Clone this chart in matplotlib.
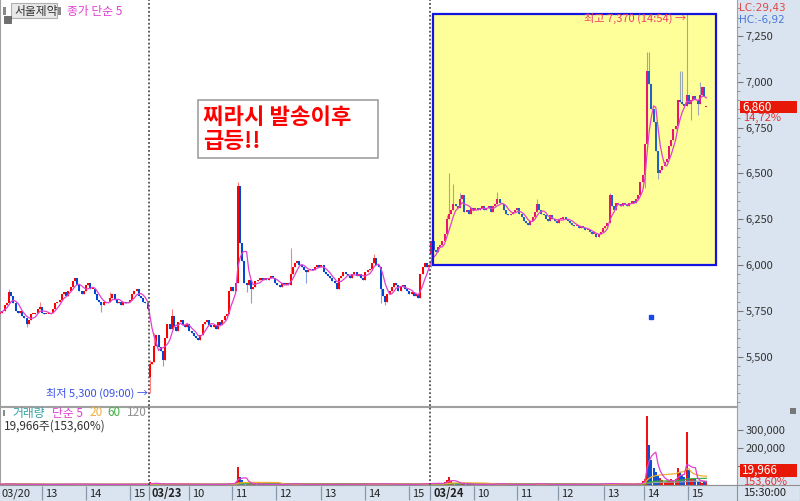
import numpy as np
import pandas as pd
import matplotlib
matplotlib.use("Agg")
import matplotlib.pyplot as plt
from matplotlib.patches import Rectangle
from matplotlib.ticker import FuncFormatter, MultipleLocator, FixedLocator

plt.rcParams['font.family'] = ['Noto Sans CJK KR', 'DejaVu Sans']

# ─────────────────────────────────────────────
# 3분봉 데이터 (03/20 12:00 ~ 03/24 15:1x)
# ─────────────────────────────────────────────
day1_close = [5740, 5750, 5780, 5790, 5850, 5830, 5790, 5750, 5740, 5750,
              5720, 5710, 5680, 5700, 5730, 5730, 5740, 5760, 5770, 5740,
              5730, 5730, 5730, 5740, 5760, 5790, 5800, 5810, 5840, 5850,
              5830, 5860, 5880, 5910, 5930, 5890, 5860, 5840, 5860, 5890,
              5900, 5870, 5870, 5840, 5810, 5800, 5780, 5800, 5790, 5800,
              5820, 5840, 5810, 5790, 5800, 5780, 5800, 5790, 5800, 5810,
              5840, 5860, 5870, 5830, 5820, 5800, 5790, 5760]
day2_close = [5460, 5470, 5560, 5620, 5550, 5530, 5480, 5600, 5680, 5650,
              5720, 5660, 5640, 5690, 5700, 5670, 5660, 5680, 5640, 5630,
              5610, 5600, 5590, 5620, 5680, 5690, 5700, 5670, 5660, 5670,
              5650, 5690, 5670, 5700, 5720, 5730, 5860, 5880, 5860, 5900,
              6430, 6120, 6020, 5900, 5890, 5920, 5870, 5880, 5910, 5920,
              5930, 5920, 5930, 5920, 5930, 5940, 5930, 5900, 5890, 5880,
              5900, 5890, 5900, 5890, 5950, 5990, 6010, 6020, 6000, 5990,
              5970, 5960, 5970, 5980, 5970, 5990, 6000, 5990, 6000, 5960,
              5950, 5940, 5930, 5910, 5900, 5870, 5930, 5940, 5960, 5950,
              5940, 5930, 5950, 5960, 5940, 5950, 5930, 5920, 5960, 5970,
              5980, 6010, 6040, 6000, 5990, 5870, 5830, 5800, 5840, 5860,
              5880, 5900, 5890, 5860, 5880, 5890, 5870, 5860, 5840, 5850,
              5830, 5840, 5820, 5950, 5990, 6010, 5990, 6000]
day3_close = [6130, 6080, 6070, 6100, 6110, 6130, 6170, 6250, 6280, 6300,
              6330, 6320, 6310, 6360, 6380, 6290, 6300, 6280, 6310, 6300,
              6310, 6300, 6310, 6320, 6300, 6310, 6320, 6290, 6320, 6330,
              6360, 6340, 6330, 6300, 6280, 6270, 6280, 6290, 6300, 6310,
              6280, 6260, 6240, 6230, 6220, 6240, 6260, 6290, 6330, 6300,
              6280, 6270, 6250, 6240, 6270, 6250, 6240, 6230, 6250, 6250,
              6260, 6250, 6240, 6230, 6220, 6210, 6210, 6200, 6210, 6200,
              6190, 6190, 6180, 6170, 6170, 6150, 6170, 6180, 6200, 6210,
              6230, 6380, 6320, 6300, 6340, 6330, 6320, 6340, 6330, 6320,
              6340, 6350, 6340, 6360, 6380, 6450, 6490, 6660, 7060, 6990,
              6850, 6780, 6620, 6500, 6520, 6540, 6560, 6580, 6650, 6680,
              6740, 6760, 6900, 6890, 6880, 6870, 6930, 6880, 6900, 6920,
              6900, 6880, 6930, 6970, 6920, 6860]

# 거래량 (천주)
day1_vol_k = [3, 2, 5, 8, 4, 2, 3, 2, 1, 2, 3, 2, 4, 3, 2, 2, 1, 2, 3, 2,
              1, 1, 2, 1, 2, 3, 2, 2, 3, 2, 2, 3, 4, 3, 5, 3, 2, 2, 3, 2,
              1, 2, 2, 1, 2, 3, 2, 1, 2, 3, 2, 2, 1, 2, 1, 2, 2, 1, 2, 3,
              3, 4, 3, 2, 2, 1, 2, 6]
day2_vol_k = [13, 8, 6, 5, 4, 5, 4, 3, 6, 5, 4, 3, 3, 4, 3, 2, 3, 2, 2, 3,
              2, 2, 3, 2, 3, 2, 2, 3, 2, 3, 2, 2, 2, 3, 2, 3,
              12, 6, 5, 15, 95, 40, 25, 14, 8, 6, 5, 4, 3, 3, 4, 3, 2, 3, 2, 3,
              2, 2, 2, 3, 2, 3, 2, 2,
              10, 6, 4, 3, 2, 2, 3, 2, 2, 2, 3, 2, 2, 2, 3, 2, 2, 2, 3, 4,
              3, 2, 2, 2, 2, 2, 3, 2, 2, 3, 2, 2, 3, 2, 5, 4, 3,
              4, 6, 3, 2, 8, 6, 5, 3, 3, 4, 3, 2, 2, 2, 3, 2, 2, 2, 2, 2,
              2, 3, 7, 6, 4, 3, 8]
day3_vol_k = [12, 6, 5, 8, 6, 9, 14, 25, 40, 22, 12, 8, 6, 9, 7,
              4, 3, 3, 2, 3, 2, 2, 3, 2, 2, 3, 2, 2, 3, 4, 11, 5, 3, 2, 2,
              2, 3, 2, 2, 3, 2, 2, 2, 2, 3,
              2, 3, 4, 10, 5, 3, 2, 2, 3, 2, 2, 2, 2, 3, 2, 2, 2, 2, 2, 2,
              2, 2, 2, 2, 3, 2, 2, 2, 3, 2,
              3, 4, 5, 6, 5, 6, 9, 6, 4, 3, 4, 3, 3, 3, 2, 3, 4, 3, 5, 6,
              10, 20, 30, 378, 217, 135, 90, 70, 50, 35, 25, 15, 20, 25, 30,
              20, 30, 89, 72, 56, 40, 290, 78, 33, 30, 35, 15, 15, 12, 15, 19.966]

first_open = 5730
open_fix = {68: 5390, 196: 6060, 321: 6860}
high_fix = {4: 5870, 18: 5800, 50: 5850, 68: 5480, 70: 5630, 78: 5760,
            108: 6450, 109: 6400, 132: 6090, 170: 6060, 203: 6270, 204: 6500,
            206: 6440, 209: 6390, 226: 6400, 244: 6360, 277: 6390, 294: 7160,
            295: 7160, 309: 7060, 310: 7060, 312: 7370, 318: 7000}
low_fix = {0: 5700, 12: 5660, 46: 5745, 68: 5300, 74: 5450, 112: 5850,
           114: 5790, 139: 5900, 173: 5790, 175: 5780, 196: 5990, 293: 6420,
           299: 6470, 314: 6790, 317: 6820}

date_labels = ['03/20', '13', '14', '15', '03/23', '10', '11', '12', '13', '14', '15',
               '03/24', '10', '11', '12', '13', '14', '15']
date_ticks = [-0.5, 19.5, 39.5, 59.5, 68, 86.5, 106, 126, 146.5, 166.5, 186.5,
              196, 216, 235.5, 254, 275, 293, 313]
day_starts = [68, 196]
marker_pt = (296, 5715)

# ─────────────────────────────────────────────
assert len(day1_close) == len(day1_vol_k) == 68
assert len(day2_close) == len(day2_vol_k) == 128
assert len(day3_close) == len(day3_vol_k) == 126

close = np.array(day1_close + day2_close + day3_close, dtype=float)
vol = np.array(day1_vol_k + day2_vol_k + day3_vol_k) * 1000
n = len(close)
idx = np.arange(n)
opn = np.r_[first_open, close[:-1]]
for k, v in open_fix.items():
    opn[k] = v
hi = np.maximum(opn, close)
lo = np.minimum(opn, close)
for k, v in high_fix.items():
    hi[k] = max(hi[k], v)
for k, v in low_fix.items():
    lo[k] = min(lo[k], v)
up = close >= opn
box = idx >= day_starts[1]

W, H = 800, 501
fig = plt.figure(figsize=(8, 5.01), dpi=100)


def fr(x0, y0, x1, y1):
    return [x0 / W, 1 - y1 / H, (x1 - x0) / W, (y1 - y0) / H]


def ftext(px, py, s, **kw):
    kw.setdefault('va', 'center')
    kw.setdefault('size', 8.5)
    return fig.text(px / W, 1 - py / H, s, **kw)


def frect(x0, y0, x1, y1, **kw):
    r = Rectangle((x0 / W, 1 - y1 / H), (x1 - x0) / W, (y1 - y0) / H,
                  transform=fig.transFigure, **kw)
    fig.add_artist(r)
    return r


PANEL = '#d9e4f0'
frect(737, 0, 800, 486, facecolor=PANEL, edgecolor='none', zorder=-1)

xlim = (-0.09, 334.9)

# ── 가격 패널
ax = fig.add_axes(fr(0, 0, 737, 406))
body_col = np.where(up, np.where(box, '#e8186e', '#ff0000'), np.where(box, '#1c64c8', '#0048d0'))
wick_col = np.where(box, '#9aa6b0', np.where(up, '#ff8080', '#80a0e0'))
ax.vlines(idx, lo, hi, colors=wick_col, lw=0.8, zorder=2)
ax.bar(idx, np.maximum(np.abs(close - opn), 7), bottom=np.minimum(opn, close),
       width=0.85, color=body_col, linewidth=0, zorder=3)
sma5 = pd.Series(close).rolling(5, min_periods=1).mean()
ax.plot(idx, sma5, color='#e040d0', lw=0.9, zorder=3.5)

# 노란 박스
b_left = day_starts[1] + 0.5
b_right = n - 1 + 4.5
ax.add_patch(Rectangle((b_left, 6000), b_right - b_left, hi.max() - 6000,
                       facecolor='#ffff99', edgecolor='none', zorder=0.5))
ax.add_patch(Rectangle((b_left, 6000), b_right - b_left, hi.max() - 6000,
                       fill=False, edgecolor='#1414e0', lw=1.6, zorder=4))

ax.plot(*marker_pt, marker='s', ms=3.5, color='#1848e8', zorder=4)

ih = int(np.argmax(hi))
il = int(np.argmin(lo))
ax.text(ih - 0.4, hi[ih] - 25, f"최고 {hi[ih]:,.0f} (14:54) →", ha='right', va='center',
        color='#f03c64', size=8, zorder=5)
ax.text(il - 1.0, lo[il], f"최저 {lo[il]:,.0f} (09:00) →", ha='right', va='center',
        color='#3850e8', size=8, zorder=5)

ax.set_xlim(*xlim)
ax.set_ylim(5230, 7446)
ax.set_xticks([])
ax.yaxis.tick_right()
ax.yaxis.set_major_locator(FixedLocator([5500, 5750, 6000, 6250, 6500, 6750, 7000, 7250]))
ax.yaxis.set_minor_locator(MultipleLocator(50))
ax.yaxis.set_major_formatter(FuncFormatter(lambda v, p: f"{v:,.0f}"))
ax.tick_params(axis='y', which='major', length=4, width=0.8, color='#777',
               labelsize=8, labelcolor='#333', pad=2)
ax.tick_params(axis='y', which='minor', length=2, width=0.6, color='#888')
for s in ax.spines.values():
    s.set_color('#a0a0a0')
ax.spines['top'].set_visible(False)

# ── 거래량 패널
axv = fig.add_axes(fr(0, 407, 737, 485))
vcol = np.where(up, '#f01010', '#1050d0')
axv.bar(idx, vol, width=0.85, color=vcol, linewidth=0, zorder=2)
vs = pd.Series(vol)
for w, c in [(120, '#a0a0a0'), (60, '#40b040'), (20, '#f0b030'), (5, '#e040d0')]:
    axv.plot(idx, vs.rolling(w, min_periods=1).mean(), color=c, lw=0.9, zorder=3)
axv.set_xlim(*xlim)
axv.set_ylim(-1500, 426000)
axv.set_xticks([])
axv.yaxis.tick_right()
axv.yaxis.set_major_locator(FixedLocator([100000, 200000, 300000]))
# 100,000 라벨은 빨간 현재값 상자에 가려짐
axv.yaxis.set_major_formatter(FuncFormatter(lambda v, p: "" if v < 150000 else f"{v:,.0f}"))
axv.tick_params(axis='y', length=4, width=0.8, color='#777', labelsize=8,
                labelcolor='#333', pad=2)
for s in axv.spines.values():
    s.set_color('#a0a0a0')

for a in (ax, axv):
    for d in day_starts:
        a.axvline(d - 0.5, color='#505050', ls=(0, (1, 1.2)), lw=1.3, zorder=6)

# ── 날짜 축
axd = fig.add_axes(fr(0, 485, 737, 501))
axd.set_facecolor(PANEL)
axd.set_xlim(*xlim)
axd.set_ylim(0, 1)
axd.set_xticks([])
axd.set_yticks([])
for s in ['left', 'right', 'bottom']:
    axd.spines[s].set_visible(False)
axd.spines['top'].set_color('#909090')
for t, lab in zip(date_ticks, date_labels):
    if t > 0:
        axd.vlines(t - 0.5, 0.05, 0.95, color='#8898a8', lw=0.9)
    axd.text(t + 0.9, 0.45, lab, ha='left', va='center', size=8, color='#222',
             weight='bold' if lab in ('03/23', '03/24') else 'normal')
frect(737, 485, 800, 501, facecolor=PANEL, edgecolor='#909090', lw=0.8)
ftext(743, 493, "15:30:00", size=8, color='#222')

# ── 상단 라벨
frect(3, 7, 6, 15, facecolor='#8a8a8a', edgecolor='none')
frect(11, 3, 57, 18, facecolor='#e8e8e8', edgecolor='#b0b0b0', lw=0.8)
ftext(14, 11, "서울제약", color='#333')
frect(58, 7, 61, 15, facecolor='#8a8a8a', edgecolor='none')
ftext(67, 11, "종가 단순 5", color='#e040d0')
frect(4, 16, 11, 23, facecolor='#707070', edgecolor='#505050', lw=0.5)

ftext(739, 8.5, "LC:29,43", color='#e04848', size=7.5, family='DejaVu Sans')
ftext(739, 20.5, "HC:-6,92", color='#4878d8', size=7.5, family='DejaVu Sans')
frect(740, 101, 797, 113, facecolor='#e81808', edgecolor='none', zorder=5)
ftext(742, 107, f"{close[-1]:,.0f}", color='white', zorder=6)
ftext(743, 117.5, "14,72%", color='#e83030', size=8)

# ── 거래량 라벨
frect(3, 410, 5, 416, facecolor='#8a8a8a', edgecolor='none')
ftext(12, 413, "거래량", color='#30a0a0')
ftext(52, 413, "단순 5", color='#e040d0')
ftext(89, 413, "20", color='#f0b040')
ftext(107, 413, "60", color='#40b040')
ftext(127, 413, "120", color='#909090')
ftext(4, 426, f"{vol[-1]:,.0f}주(153,60%)", color='#333')
frect(740, 464, 797, 477, facecolor='#e81808', edgecolor='none', zorder=5)
ftext(742, 470.5, f"{vol[-1]:,.0f}", color='white', zorder=6)
ftext(743, 482, "153,60%", color='#e83030', size=8)
frect(790, 408, 796, 414, facecolor='#777', edgecolor='none')

# ── 메모 박스
frect(198, 100, 378, 158, facecolor='white', edgecolor='#a0a0a0', lw=1.2, zorder=5)
ftext(203, 117, "찌라시 발송이후", color='#ff0000', size=16, weight='bold', zorder=6)
ftext(203, 141, "급등!!", color='#ff0000', size=16, weight='bold', zorder=6)

fig.savefig("out.png", dpi=100)
